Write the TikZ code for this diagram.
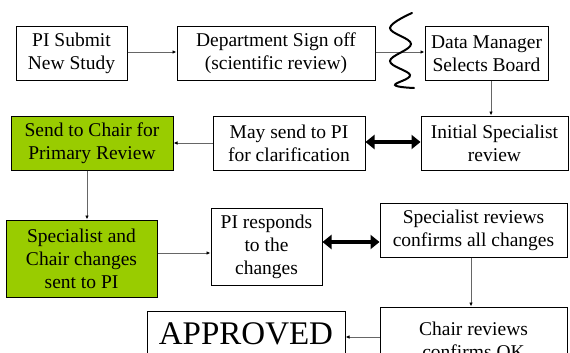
\documentclass[tikz,border=0pt]{standalone}
\usepackage{fontspec}
\setmainfont{Liberation Serif}
\newfontfamily\timesface{Liberation Serif}
\usetikzlibrary{arrows.meta}
\definecolor{leaf}{RGB}{153,204,0}
\tikzset{
  box/.style={draw=black, line width=1pt, align=center, inner sep=0pt,
    font=\timesface\fontsize{19.5}{23}\selectfont, fill=white},
  greenbox/.style={box, fill=leaf},
  arr/.style={draw=black!60, line width=0.8pt, -{Latex[length=4pt,width=3.5pt,black]}},
  bigarr/.style={line width=3.5pt, {Triangle[length=9pt,width=14pt]}-{Triangle[length=9pt,width=14pt]}},
}
\begin{document}
\begin{tikzpicture}[x=1pt,y=-1pt]
\useasboundingbox (0,0) rectangle (570,353);
\clip (0,0) rectangle (570,353);
\fill[white] (0,0) rectangle (570,353);
% row 1
\node[box, minimum width=111pt, minimum height=54pt] (pi) at (71.5,53.5) {PI Submit\\New Study};
\node[box, minimum width=198pt, minimum height=54pt] (dept) at (276,53.5) {Department Sign off\\(scientific review)};
\node[box, minimum width=123pt, minimum height=54pt] (dm) at (486.5,53.5) {Data Manager\\Selects Board};
% row 2
\node[greenbox, minimum width=162pt, minimum height=54pt] (green1) at (92,143) {Send to Chair for\\Primary Review};
\node[box, minimum width=152pt, minimum height=54pt] (may) at (289,143) {May send to PI\\for clarification};
\node[box, minimum width=147pt, minimum height=54pt] (init) at (494.5,143) {Initial Specialist\\review};
% row 3
\node[greenbox, minimum width=151pt, minimum height=77pt] (green2) at (81.5,258.5) {Specialist and\\Chair changes\\sent to PI};
\node[box, minimum width=111pt, minimum height=77pt] (pir) at (266.5,246.5) {PI responds\\to the\\changes};
\node[box, minimum width=187pt, minimum height=54pt] (spec) at (473.5,230) {Specialist reviews\\confirms all changes};
% row 4
\node[box, minimum width=187pt, minimum height=66pt] (chair) at (473.5,340) {Chair reviews\\confirms OK};
\node[box, minimum width=198pt, minimum height=46pt, font=\timesface\fontsize{33}{36}\selectfont] (appr) at (246,334) {APPROVED};
% connectors
\draw[arr] (pi.east |- 0,52) -- (dept.west |- 0,52);
\draw[arr] (dept.east |- 0,52) -- (dm.west |- 0,52);
\draw[arr] (dm.south -| 491,0) -- (init.north -| 491,0);
\draw[arr] (may) -- (green1);
\draw[bigarr] (may.east |- 0,142) -- (init.west |- 0,142);
\draw[arr] (green1.south -| 87,0) -- (green2.north -| 87,0);
\draw[arr] (green2.east |- 0,253) -- (pir.west |- 0,253);
\draw[bigarr] (pir.east |- 0,242) -- (spec.west |- 0,242);
\draw[arr] (spec.south -| 471,0) -- (chair.north -| 471,0);
\draw[arr] (chair.west |- 0,337) -- (appr.east |- 0,337);
% squiggle
\draw[line width=2pt, line cap=round] plot[smooth, tension=0.65] coordinates
  {(412,13) (390,28) (411,44) (390,61) (410,75) (395,85) (414,88)};
\end{tikzpicture}
\end{document}
